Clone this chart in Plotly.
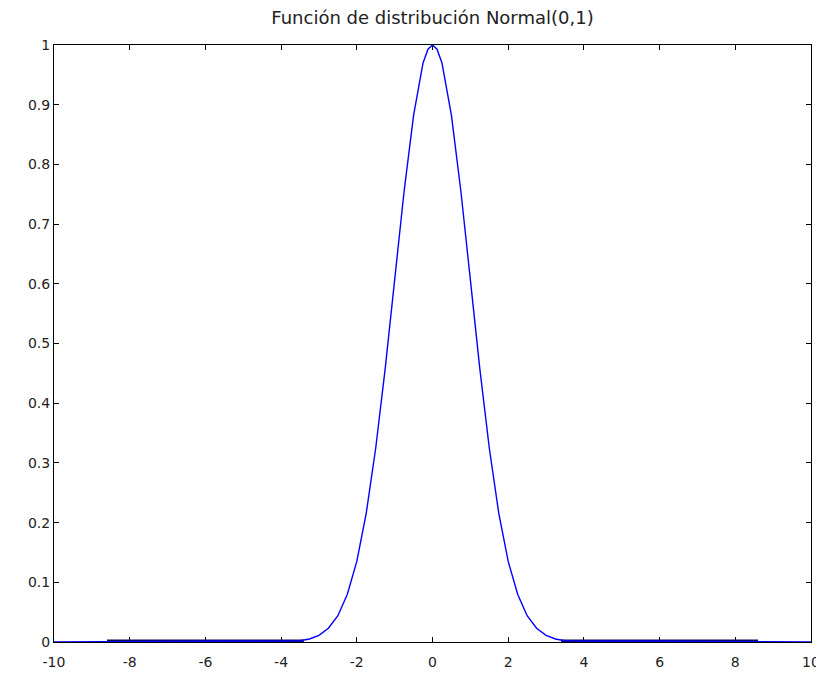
import plotly.graph_objects as go

# Curve values
x_vals = [-10, -3.5, -3.25, -3.0, -2.75, -2.5, -2.25, -2.0, -1.75, -1.5, -1.25, -1.0, -0.75, -0.5, -0.25, -0.12, 0.0,
          0.12, 0.25, 0.5, 0.75, 1.0, 1.25, 1.5, 1.75, 2.0, 2.25, 2.5, 2.75, 3.0, 3.25, 3.5, 10]
y_vals = [0.0, 0.002, 0.005, 0.011, 0.023, 0.044, 0.08, 0.135, 0.216, 0.325, 0.458, 0.607, 0.755, 0.882, 0.97, 0.993, 1.0,
          0.993, 0.97, 0.882, 0.755, 0.607, 0.458, 0.325, 0.216, 0.135, 0.08, 0.044, 0.023, 0.011, 0.005, 0.002, 0.0]

# Dark baseline segments
base_x = [-8.6, -3.4, None, 3.4, 8.6]
base_y = [0, 0, None, 0, 0]

x_ticks = [-10, -8, -6, -4, -2, 0, 2, 4, 6, 8, 10]
x_tick_text = ["-10", "-8", "-6", "-4", "-2", "0", "2", "4", "6", "8", "10"]
y_ticks = [0, 0.1, 0.2, 0.3, 0.4, 0.5, 0.6, 0.7, 0.8, 0.9, 1]
y_tick_text = ["0", "0.1", "0.2", "0.3", "0.4", "0.5", "0.6", "0.7", "0.8", "0.9", "1"]

title_text = "Función de distribución Normal(0,1)"

fig = go.Figure()
fig.add_trace(go.Scatter(x=base_x, y=base_y, mode="lines",
                         line=dict(color="#0a0a5a", width=5), hoverinfo="skip", showlegend=False))
fig.add_trace(go.Scatter(x=x_vals, y=y_vals, mode="lines",
                         line=dict(color="#0000ff", width=1.4), showlegend=False))

font = dict(family="DejaVu Sans, sans-serif", size=14, color="#222222")

# page body has an 8px margin, so the figure is sized/offset to compensate
fig.update_layout(
    width=816, height=667,
    margin=dict(l=46, r=13, t=37, b=33),
    paper_bgcolor="#ffffff", plot_bgcolor="#ffffff",
    title=dict(text=title_text, x=0.5, xref="paper", xanchor="center",
               y=1 - 10 / 667, yref="container", yanchor="middle",
               font=dict(family="DejaVu Sans, sans-serif", size=18, color="#222222")),
    font=font,
)
fig.update_xaxes(range=[-10, 10], tickvals=x_ticks, ticktext=x_tick_text, ticks="inside", ticklen=5,
                 tickwidth=1, tickcolor="#000000", showline=True, linecolor="#000000", linewidth=1,
                 mirror="ticks", showgrid=False, zeroline=False, layer="below traces",
                 tickfont=font, automargin=False, ticklabelstandoff=7)
fig.update_yaxes(range=[0, 1], tickvals=y_ticks, ticktext=y_tick_text, ticks="inside", ticklen=5,
                 tickwidth=1, tickcolor="#000000", showline=True, linecolor="#000000", linewidth=1,
                 mirror="ticks", showgrid=False, zeroline=False, layer="below traces",
                 tickfont=font, automargin=False)

fig.write_html("out.html")
